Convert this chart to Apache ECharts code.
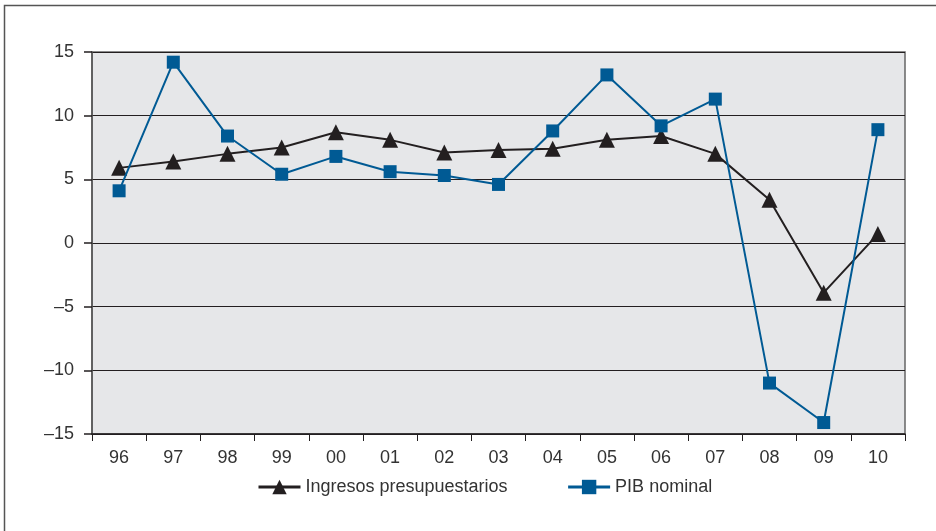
<!DOCTYPE html>
<html>
<head>
<meta charset="utf-8">
<style>
  html, body { margin: 0; padding: 0; background: #fff; }
  #chart { width: 936px; height: 531px; }
</style>
<script src="https://cdn.jsdelivr.net/npm/echarts@6/dist/echarts.min.js"></script>
</head>
<body>
<div id="chart"></div>
<script>
// years (two digits)
var years = ["96", "97", "98", "99", "00", "01", "02", "03", "04", "05", "06", "07", "08", "09", "10"];
var ingresos = [5.9, 6.4, 7.0, 7.5, 8.7, 8.1, 7.1, 7.3, 7.4, 8.1, 8.4, 7.0, 3.4, -3.9, 0.7];
var pibNominal = [4.1, 14.2, 8.4, 5.4, 6.8, 5.6, 5.3, 4.6, 8.8, 13.2, 9.2, 11.3, -11.0, -14.1, 8.9];
var seriesNames = ["Ingresos presupuestarios", "PIB nominal"];

var chart = echarts.init(document.getElementById("chart"));
var font = "'Liberation Sans', Arial, sans-serif";

chart.setOption({
  animation: false,
  textStyle: { fontFamily: font },
  graphic: [{
    type: "rect",
    shape: { x: 4.5, y: 5.5, width: 940, height: 540 },
    style: { fill: "none", stroke: "#555", lineWidth: 1.5 },
    silent: true
  }],
  grid: {
    left: 92,
    right: 31,
    top: 52,
    bottom: 97,
    show: true,
    backgroundColor: "#e6e7e9",
    borderColor: "#666",
    borderWidth: 1.5
  },
  legend: {
    top: 473,
    left: 252,
    itemGap: 59,
    itemWidth: 42,
    itemHeight: 18,
    lineStyle: { width: 3 },
    textStyle: { fontSize: 18, color: "#333", fontFamily: font },
    data: seriesNames
  },
  xAxis: {
    type: "category",
    data: years,
    boundaryGap: true,
    axisLine: { onZero: false, lineStyle: { color: "#231f20", width: 1.5 } },
    axisTick: { show: true, length: 7, lineStyle: { color: "#231f20" } },
    axisLabel: { fontSize: 18, color: "#333", margin: 15 },
    splitLine: { show: false }
  },
  yAxis: {
    type: "value",
    min: -15,
    max: 15,
    interval: 5,
    axisLine: { show: true, onZero: false, lineStyle: { color: "#555", width: 1.5 } },
    axisTick: { show: true, inside: false, length: 8, lineStyle: { color: "#231f20", width: 1.5 } },
    axisLabel: {
      fontSize: 18,
      color: "#333",
      margin: 18,
      formatter: function (v) { return String(v).replace("-", "\u2013"); }
    },
    splitLine: { lineStyle: { color: "#231f20", width: 1.2 } }
  },
  series: [
    {
      name: seriesNames[0],
      type: "line",
      data: ingresos,
      symbol: "triangle",
      symbolSize: 16,
      itemStyle: { color: "#231f20" },
      lineStyle: { color: "#231f20", width: 2 },
      z: 3
    },
    {
      name: seriesNames[1],
      type: "line",
      data: pibNominal,
      symbol: "rect",
      symbolSize: 13,
      itemStyle: { color: "#005a94" },
      lineStyle: { color: "#005a94", width: 2 },
      z: 4
    }
  ]
});
</script>
</body>
</html>
